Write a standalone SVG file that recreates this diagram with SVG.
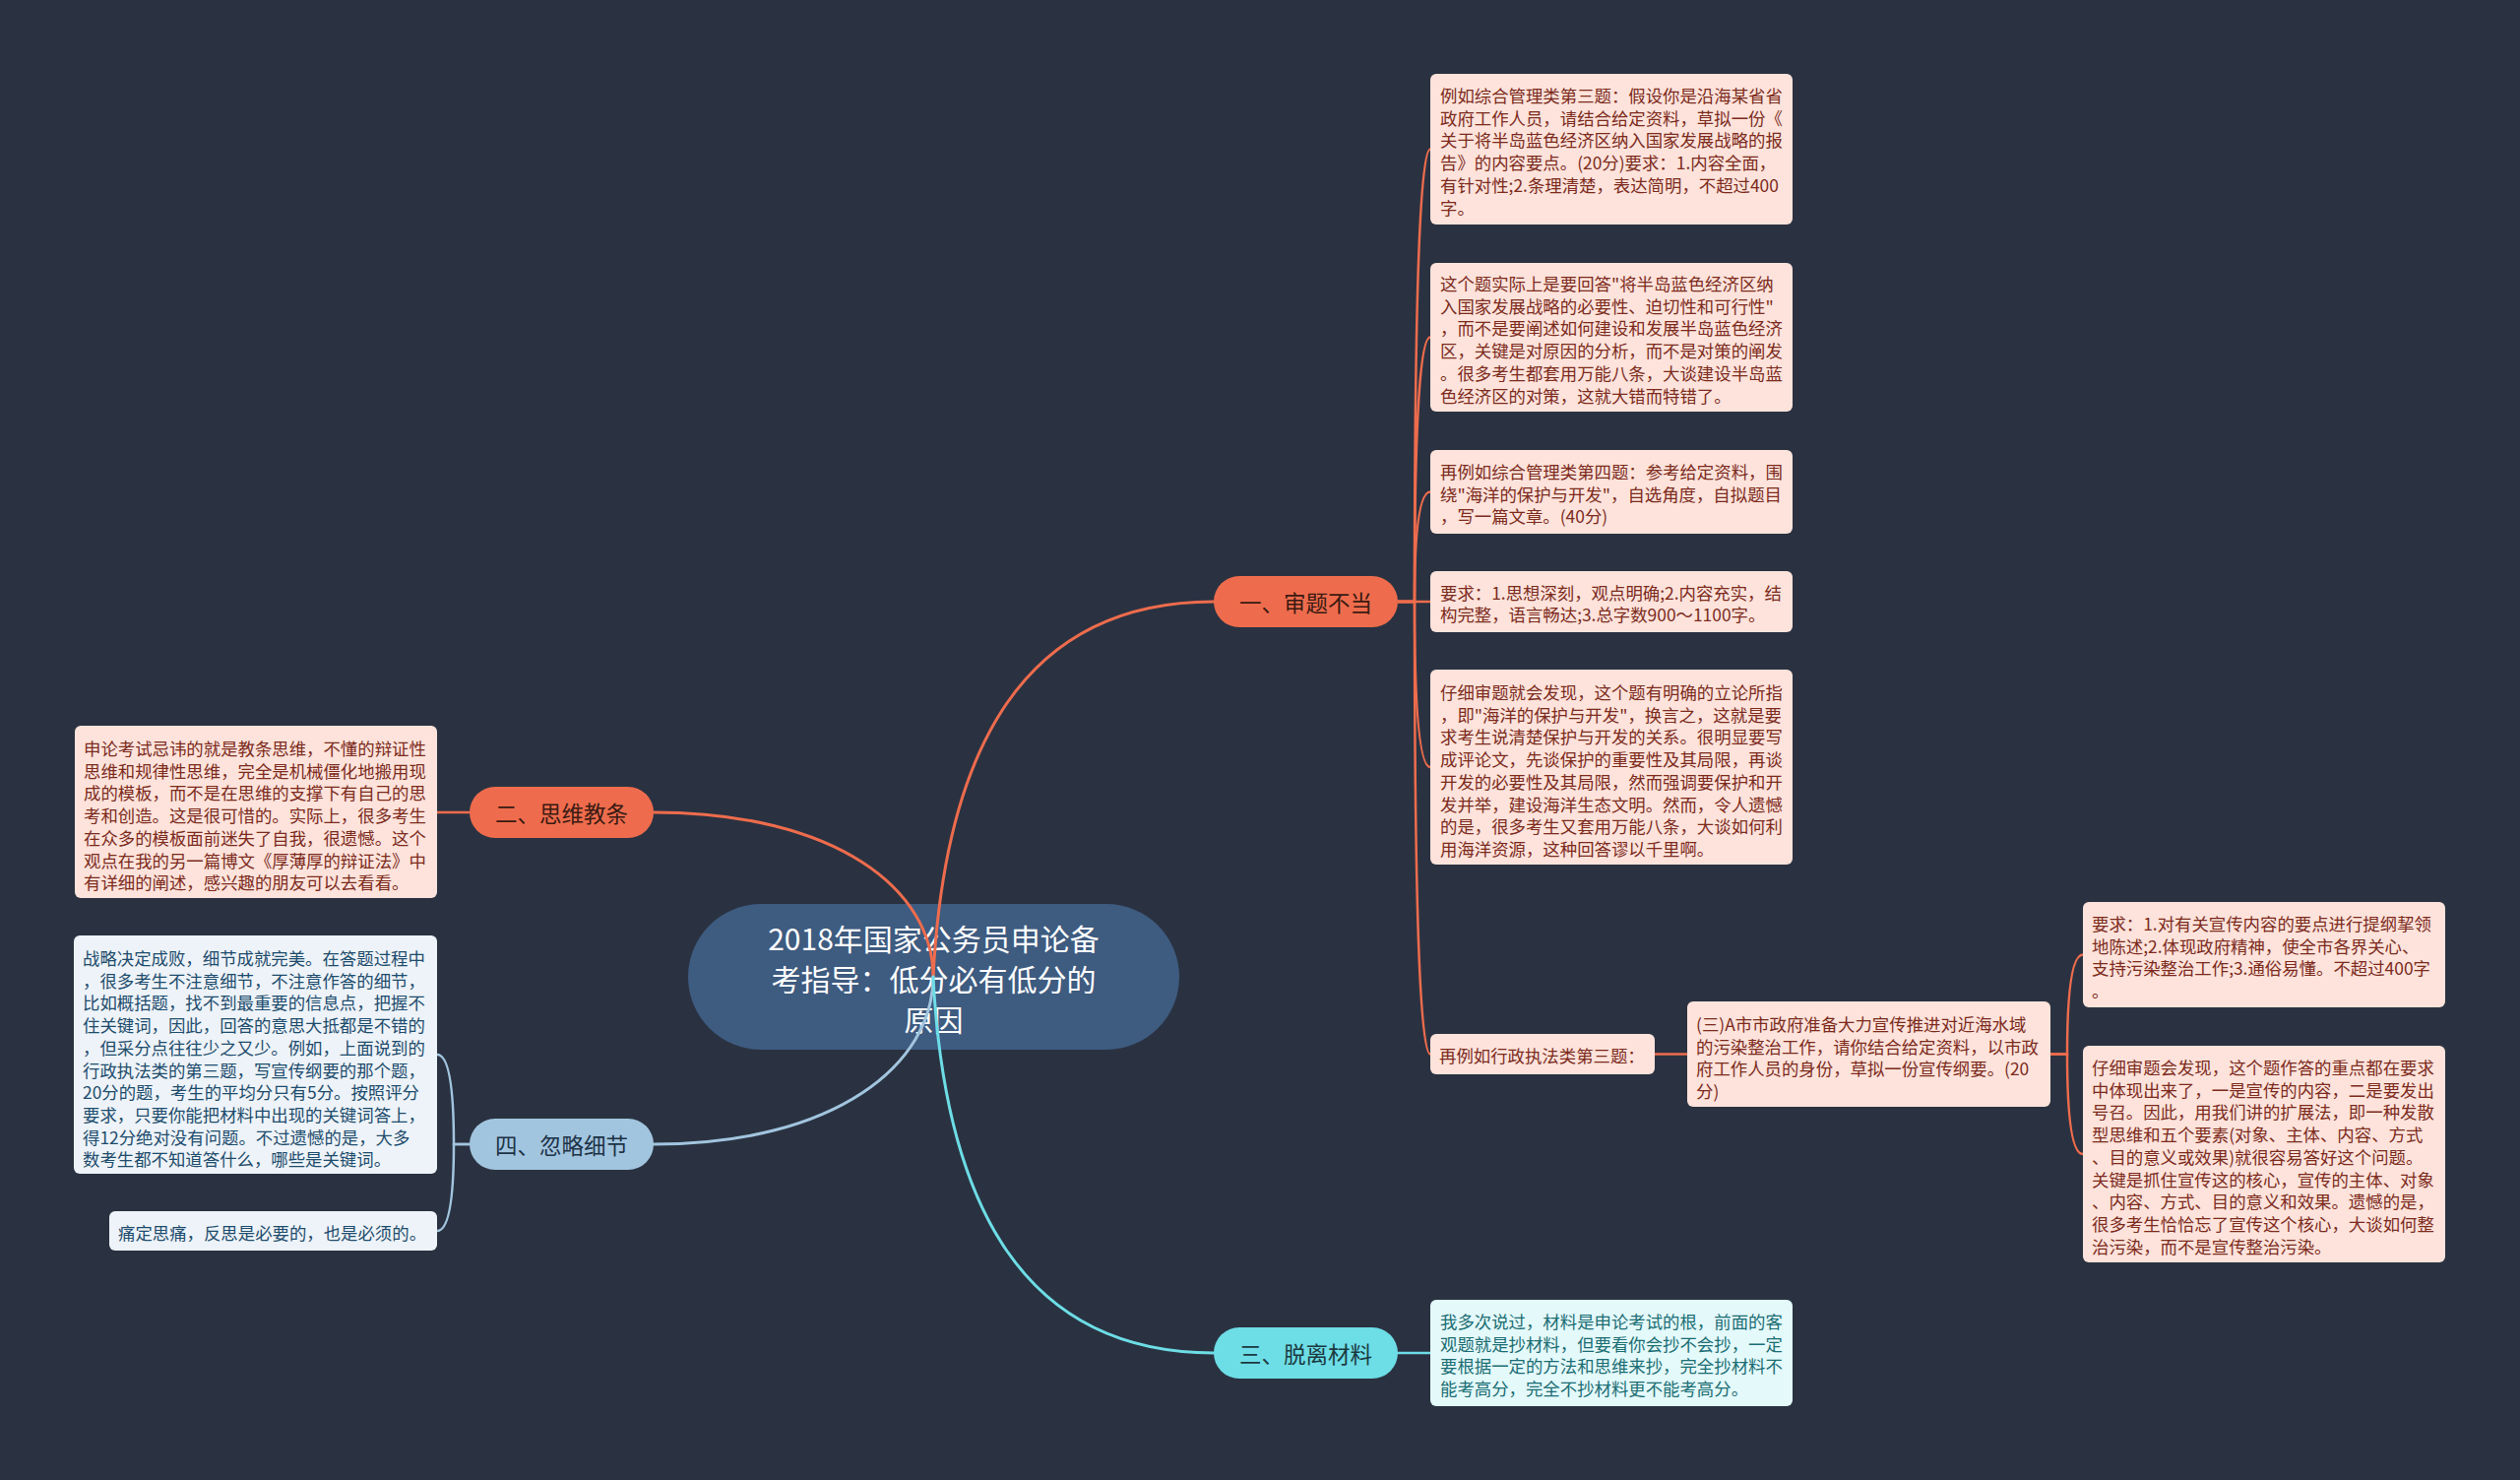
<svg xmlns="http://www.w3.org/2000/svg" width="2560" height="1503" viewBox="0 0 2560 1503">
<style>
text{font-family:"Noto Sans CJK SC","Noto Sans",sans-serif;dominant-baseline:central}
.root-t{font-size:30px;fill:#ffffff;text-anchor:middle}
.main-t{font-size:22.5px;text-anchor:middle}
.leaf-t{font-size:17.4px}
.or-box{fill:#fde3db}
.or-t{fill:#7c2b1d}
.bl-box{fill:#edf3f8}
.bl-t{fill:#1e4c6d}
.cy-box{fill:#e3f9fa}
.cy-t{fill:#1b6d73}
.con{fill:none;stroke-linecap:round}
.c-or{stroke:#ee6c4d}
.c-bl{stroke:#a2c5df}
.c-cy{stroke:#6ddde6}
.w3{stroke-width:3}
.w25{stroke-width:2.5}
</style>
<rect x="0" y="0" width="2560" height="1503" fill="#2a3241"/>

<g id="root">
<rect x="699" y="918" width="499" height="148" rx="74" fill="#3e5b80"/>
<text class="root-t"><tspan x="948.5" y="952">2018年国家公务员申论备</tspan><tspan x="948.5" y="993">考指导：低分必有低分的</tspan><tspan x="948.5" y="1034">原因</tspan></text>
</g>

<g id="connectors">
<path class="con c-or w3" d="M948,992 C960,760 1040,611 1233,611"/>
<path class="con c-or w3" d="M948,992 C948,904 850,825 664,825"/>
<path class="con c-bl w3" d="M948,992 C948,1080 850,1162 664,1162"/>
<path class="con c-cy w3" d="M948,992 C960,1224 1040,1374 1233,1374"/>
<path class="con c-or w25" d="M1420,611 L1437,611 Q1437,151.5 1453,151.5"/>
<path class="con c-or w25" d="M1420,611 L1437,611 Q1437,342.5 1453,342.5"/>
<path class="con c-or w25" d="M1420,611 L1437,611 Q1437,499.5 1453,499.5"/>
<path class="con c-or w25" d="M1420,611 L1453,611"/>
<path class="con c-or w25" d="M1420,611 L1437,611 Q1437,779 1453,779"/>
<path class="con c-or w25" d="M1420,611 L1437,611 Q1437,1070.5 1453,1070.5"/>
<path class="con c-or w25" d="M1681,1070.5 L1714,1070.5"/>
<path class="con c-or w25" d="M2083,1070.5 L2100,1070.5 Q2100,969.5 2116,969.5"/>
<path class="con c-or w25" d="M2083,1070.5 L2100,1070.5 Q2100,1172 2116,1172"/>
<path class="con c-or w25" d="M477,825 L444,825"/>
<path class="con c-bl w25" d="M477,1162 L461,1162 Q461,1071 444,1071"/>
<path class="con c-bl w25" d="M477,1162 L461,1162 Q461,1250 444,1250"/>
<path class="con c-cy w25" d="M1420,1374 L1453,1374"/>
</g>

<g id="n1">
<rect x="1233" y="585" width="187" height="52" rx="26" fill="#ee6c4d"/>
<text class="main-t" x="1326.5" y="611" fill="#3a1a12">一、审题不当</text>
</g>
<g id="n2">
<rect x="477" y="799" width="187" height="52" rx="26" fill="#ee6c4d"/>
<text class="main-t" x="570.5" y="825" fill="#3a1a12">二、思维教条</text>
</g>
<g id="n3">
<rect x="1233" y="1348" width="187" height="52" rx="26" fill="#6ddde6"/>
<text class="main-t" x="1326.5" y="1374" fill="#1a3a40">三、脱离材料</text>
</g>
<g id="n4">
<rect x="477" y="1136" width="187" height="52" rx="26" fill="#a2c5df"/>
<text class="main-t" x="570.5" y="1162" fill="#1d3347">四、忽略细节</text>
</g>

<g id="l1a">
<rect class="or-box" x="1453" y="75" width="368" height="153" rx="6"/>
<text class="leaf-t or-t"><tspan x="1463" y="96">例如综合管理类第三题：假设你是沿海某省省</tspan><tspan x="1463" y="118.7">政府工作人员，请结合给定资料，草拟一份《</tspan><tspan x="1463" y="141.4">关于将半岛蓝色经济区纳入国家发展战略的报</tspan><tspan x="1463" y="164.1">告》的内容要点。(20分)要求：1.内容全面，</tspan><tspan x="1463" y="186.8">有针对性;2.条理清楚，表达简明，不超过400</tspan><tspan x="1463" y="209.5">字。</tspan></text>
</g>
<g id="l1b">
<rect class="or-box" x="1453" y="267" width="368" height="151" rx="6"/>
<text class="leaf-t or-t"><tspan x="1463" y="287">这个题实际上是要回答"将半岛蓝色经济区纳</tspan><tspan x="1463" y="309.7">入国家发展战略的必要性、迫切性和可行性"</tspan><tspan x="1463" y="332.4">，而不是要阐述如何建设和发展半岛蓝色经济</tspan><tspan x="1463" y="355.1">区，关键是对原因的分析，而不是对策的阐发</tspan><tspan x="1463" y="377.8">。很多考生都套用万能八条，大谈建设半岛蓝</tspan><tspan x="1463" y="400.5">色经济区的对策，这就大错而特错了。</tspan></text>
</g>
<g id="l1c">
<rect class="or-box" x="1453" y="457" width="368" height="85" rx="6"/>
<text class="leaf-t or-t"><tspan x="1463" y="478">再例如综合管理类第四题：参考给定资料，围</tspan><tspan x="1463" y="500.7">绕"海洋的保护与开发"，自选角度，自拟题目</tspan><tspan x="1463" y="523.4">，写一篇文章。(40分)</tspan></text>
</g>
<g id="l1d">
<rect class="or-box" x="1453" y="580" width="368" height="62" rx="6"/>
<text class="leaf-t or-t"><tspan x="1463" y="600.5">要求：1.思想深刻，观点明确;2.内容充实，结</tspan><tspan x="1463" y="623.2">构完整，语言畅达;3.总字数900～1100字。</tspan></text>
</g>
<g id="l1e">
<rect class="or-box" x="1453" y="680" width="368" height="198" rx="6"/>
<text class="leaf-t or-t"><tspan x="1463" y="702">仔细审题就会发现，这个题有明确的立论所指</tspan><tspan x="1463" y="724.7">，即"海洋的保护与开发"，换言之，这就是要</tspan><tspan x="1463" y="747.4">求考生说清楚保护与开发的关系。很明显要写</tspan><tspan x="1463" y="770.1">成评论文，先谈保护的重要性及其局限，再谈</tspan><tspan x="1463" y="792.8">开发的必要性及其局限，然而强调要保护和开</tspan><tspan x="1463" y="815.5">发并举，建设海洋生态文明。然而，令人遗憾</tspan><tspan x="1463" y="838.2">的是，很多考生又套用万能八条，大谈如何利</tspan><tspan x="1463" y="860.9">用海洋资源，这种回答谬以千里啊。</tspan></text>
</g>
<g id="l1f">
<rect class="or-box" x="1453" y="1050" width="228" height="41" rx="6"/>
<text class="leaf-t or-t" x="1462" y="1071">再例如行政执法类第三题：</text>
</g>
<g id="l1f1">
<rect class="or-box" x="1714" y="1017" width="369" height="107" rx="6"/>
<text class="leaf-t or-t"><tspan x="1723" y="1039">(三)A市市政府准备大力宣传推进对近海水域</tspan><tspan x="1723" y="1061.7">的污染整治工作，请你结合给定资料，以市政</tspan><tspan x="1723" y="1084.4">府工作人员的身份，草拟一份宣传纲要。(20</tspan><tspan x="1723" y="1107.1">分)</tspan></text>
</g>
<g id="l1f1a">
<rect class="or-box" x="2116" y="916" width="368" height="107" rx="6"/>
<text class="leaf-t or-t"><tspan x="2125" y="937">要求：1.对有关宣传内容的要点进行提纲挈领</tspan><tspan x="2125" y="959.7">地陈述;2.体现政府精神，使全市各界关心、</tspan><tspan x="2125" y="982.4">支持污染整治工作;3.通俗易懂。不超过400字</tspan><tspan x="2125" y="1005.1">。</tspan></text>
</g>
<g id="l1f1b">
<rect class="or-box" x="2116" y="1062" width="368" height="220" rx="6"/>
<text class="leaf-t or-t"><tspan x="2125" y="1083">仔细审题会发现，这个题作答的重点都在要求</tspan><tspan x="2125" y="1105.7">中体现出来了，一是宣传的内容，二是要发出</tspan><tspan x="2125" y="1128.4">号召。因此，用我们讲的扩展法，即一种发散</tspan><tspan x="2125" y="1151.1">型思维和五个要素(对象、主体、内容、方式</tspan><tspan x="2125" y="1173.8">、目的意义或效果)就很容易答好这个问题。</tspan><tspan x="2125" y="1196.5">关键是抓住宣传这的核心，宣传的主体、对象</tspan><tspan x="2125" y="1219.2">、内容、方式、目的意义和效果。遗憾的是，</tspan><tspan x="2125" y="1241.9">很多考生恰恰忘了宣传这个核心，大谈如何整</tspan><tspan x="2125" y="1264.6">治污染，而不是宣传整治污染。</tspan></text>
</g>
<g id="l3a">
<rect class="cy-box" x="1453" y="1320" width="368" height="108" rx="6"/>
<text class="leaf-t cy-t"><tspan x="1463" y="1341">我多次说过，材料是申论考试的根，前面的客</tspan><tspan x="1463" y="1363.7">观题就是抄材料，但要看你会抄不会抄，一定</tspan><tspan x="1463" y="1386.4">要根据一定的方法和思维来抄，完全抄材料不</tspan><tspan x="1463" y="1409.1">能考高分，完全不抄材料更不能考高分。</tspan></text>
</g>
<g id="l2a">
<rect class="or-box" x="76" y="737" width="368" height="175" rx="6"/>
<text class="leaf-t or-t"><tspan x="85" y="759">申论考试忌讳的就是教条思维，不懂的辩证性</tspan><tspan x="85" y="781.7">思维和规律性思维，完全是机械僵化地搬用现</tspan><tspan x="85" y="804.4">成的模板，而不是在思维的支撑下有自己的思</tspan><tspan x="85" y="827.1">考和创造。这是很可惜的。实际上，很多考生</tspan><tspan x="85" y="849.8">在众多的模板面前迷失了自我，很遗憾。这个</tspan><tspan x="85" y="872.5">观点在我的另一篇博文《厚薄厚的辩证法》中</tspan><tspan x="85" y="895.2">有详细的阐述，感兴趣的朋友可以去看看。</tspan></text>
</g>
<g id="l4a">
<rect class="bl-box" x="75" y="950" width="369" height="242" rx="6"/>
<text class="leaf-t bl-t"><tspan x="84" y="972">战略决定成败，细节成就完美。在答题过程中</tspan><tspan x="84" y="994.7">，很多考生不注意细节，不注意作答的细节，</tspan><tspan x="84" y="1017.4">比如概括题，找不到最重要的信息点，把握不</tspan><tspan x="84" y="1040.1">住关键词，因此，回答的意思大抵都是不错的</tspan><tspan x="84" y="1062.8">，但采分点往往少之又少。例如，上面说到的</tspan><tspan x="84" y="1085.5">行政执法类的第三题，写宣传纲要的那个题，</tspan><tspan x="84" y="1108.2">20分的题，考生的平均分只有5分。按照评分</tspan><tspan x="84" y="1130.9">要求，只要你能把材料中出现的关键词答上，</tspan><tspan x="84" y="1153.6">得12分绝对没有问题。不过遗憾的是，大多</tspan><tspan x="84" y="1176.3">数考生都不知道答什么，哪些是关键词。</tspan></text>
</g>
<g id="l4b">
<rect class="bl-box" x="111" y="1230" width="333" height="40" rx="6"/>
<text class="leaf-t bl-t" x="120" y="1251">痛定思痛，反思是必要的，也是必须的。</text>
</g>
</svg>
